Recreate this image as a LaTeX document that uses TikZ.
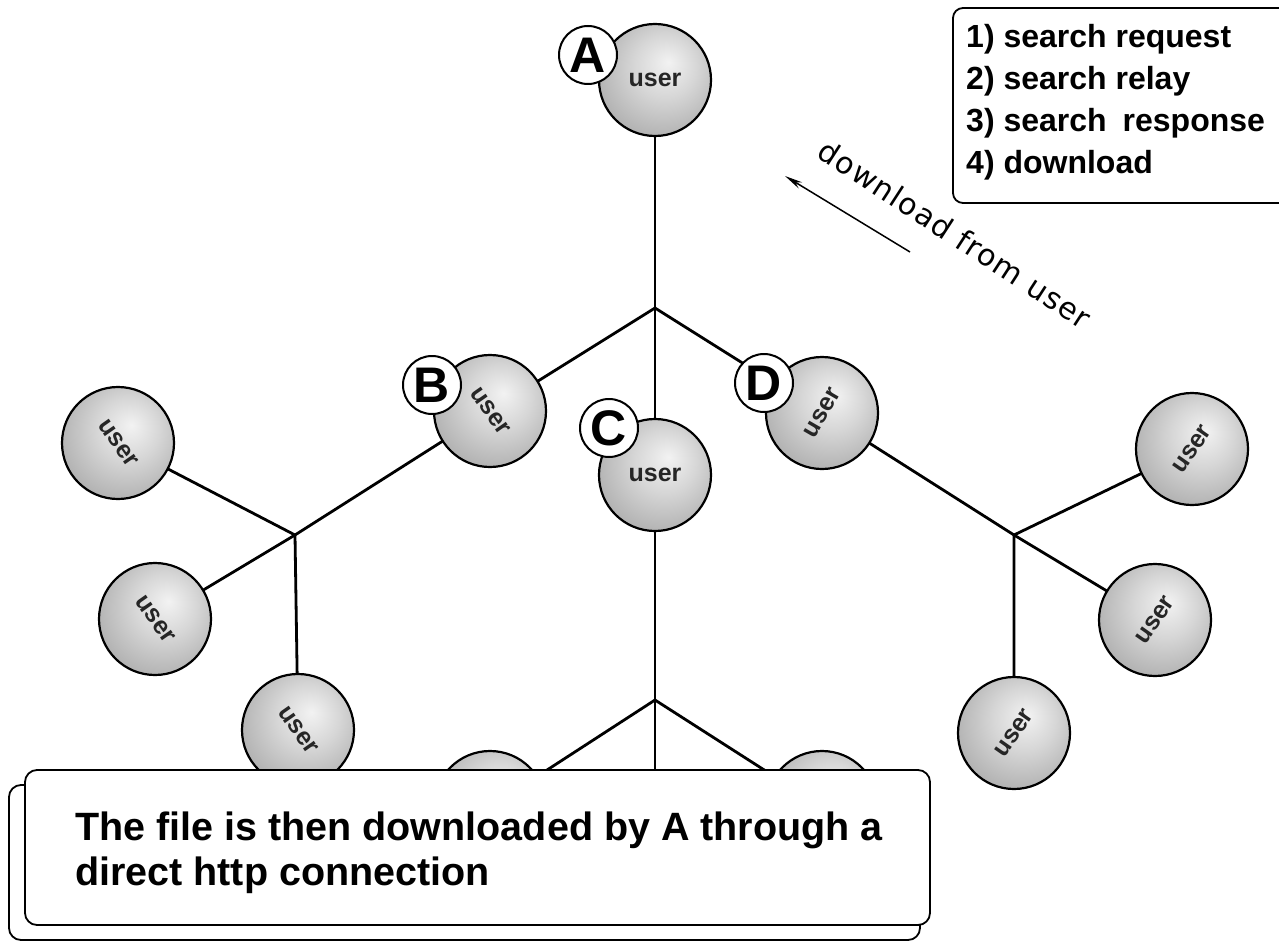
\documentclass[tikz,border=0pt]{standalone}
\usepackage{fontspec}
\setmainfont{Liberation Sans}
\newfontfamily\notefont[LetterSpace=4]{DejaVu Sans}
\usetikzlibrary{arrows.meta}
\pgfdeclarelayer{wires}
\pgfsetlayers{wires,main}
% soft grey sphere look for every peer
\pgfdeclareradialshading{peerball}{\pgfpoint{6bp}{8bp}}{%
  color(0bp)=(black!5); color(14bp)=(black!16); color(34bp)=(black!34);
  color(48bp)=(black!48); color(60bp)=(black!55)}
\begin{document}
\begin{tikzpicture}[x=1pt,y=-1pt,
  peer/.style={circle, minimum size=112pt, inner sep=0pt, draw=black,
    line width=2.2pt, shading=peerball, text=black!85,
    font=\bfseries\fontsize{25}{25}\selectfont},
  tag/.style={circle, minimum size=58pt, inner sep=0pt, draw=black,
    line width=2pt, fill=white, font=\bfseries\fontsize{50}{50}\selectfont},
  wire/.style={line width=2.8pt, black},
  panel/.style={draw=black, line width=1.8pt, fill=white, rounded corners=12pt},
]
\useasboundingbox (0,0) rectangle (1279,944);

% ---- peers of the search tree
\node[peer] (A)  at (655,80)  {user};
\node[peer] (B)  at (490,411) {\rotatebox{-55}{user}};
\node[peer] (C)  at (655,475) {user};
\node[peer] (D)  at (822,413) {\rotatebox{60}{user}};
\node[peer] (L1) at (118,443) {\rotatebox{-55}{user}};
\node[peer] (L2) at (155,619) {\rotatebox{-55}{user}};
\node[peer] (L3) at (298,730) {\rotatebox{-55}{user}};
\node[peer] (R1) at (1192,449) {\rotatebox{55}{user}};
\node[peer] (R2) at (1155,620) {\rotatebox{55}{user}};
\node[peer] (R3) at (1014,733) {\rotatebox{55}{user}};
\node[peer] (E1) at (490,807) {};
\node[peer] (E2) at (822,807) {};

% ---- branching points
\coordinate (jt) at (655,308);
\coordinate (jl) at (295,535);
\coordinate (jr) at (1014,535);
\coordinate (jb) at (655,700);
\coordinate (eb) at (655,810);

% ---- letter tags
\node[tag] (tA) at (588,55)  {A};
\node[tag] (tB) at (432,385) {B};
\node[tag] (tC) at (609,428) {C};
\node[tag] (tD) at (764,383) {D};

% ---- links, kept behind the peers
\begin{pgfonlayer}{wires}
  \draw[wire] (A.center) -- (jt) -- (C.center);
  \draw[wire] (jt) -- (B.center);
  \draw[wire] (jt) -- (D.center);
  \draw[wire] (B.center) -- (jl) -- (L2.center);
  \draw[wire] (L1.center) -- (jl) -- (L3.center);
  \draw[wire] (D.center) -- (jr) -- (R2.center);
  \draw[wire] (R1.center) -- (jr) -- (R3.center);
  \draw[wire] (C.center) -- (jb) -- (eb);
  \draw[wire] (jb) -- (E1.center);
  \draw[wire] (jb) -- (E2.center);
\end{pgfonlayer}

% ---- legend
\draw[panel, rounded corners=10pt] (953,8) rectangle (1300,203);
\node[anchor=north west, inner sep=0pt, align=left,
  font=\bfseries\fontsize{32}{42}\selectfont] (legend) at (966,24)
  {1) search request\\2) search relay\\3) search\hspace{0.5em}response\\4) download};

% ---- download hint
\coordinate (dltail) at (910,252);
\coordinate (dltip)  at (785,176);
\draw[-{Stealth[length=18pt,width=7pt]}, line width=1.5pt] (dltail) -- (dltip);
\node[rotate=-33, font=\notefont\fontsize{30}{30}\selectfont] (dlnote) at (955,234)
  {download from user};

% ---- caption panel
\draw[panel] (9,785) rectangle (920,940);
\draw[panel] (25,770) rectangle (930,925);
\node[anchor=north west, inner sep=0pt, align=left,
  font=\bfseries\fontsize{39.5}{45}\selectfont] (caption) at (75,812)
  {The file is then downloaded by A through a\\direct http connection};
\end{tikzpicture}
\end{document}
